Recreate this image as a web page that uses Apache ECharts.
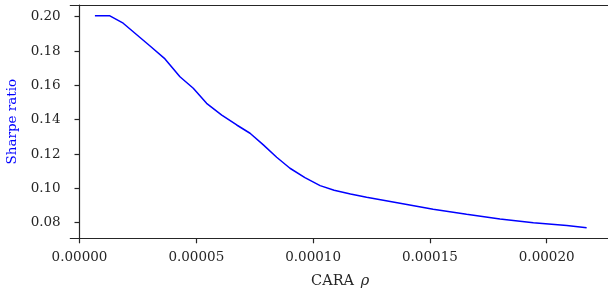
<!DOCTYPE html>
<html>
<head>
<meta charset="utf-8">
<script src="https://cdn.jsdelivr.net/npm/echarts@6/dist/echarts.min.js"></script>
<style>
  html, body { margin: 0; padding: 0; background: #fff; }
  #chart { width: 608px; height: 291px; }
</style>
</head>
<body>
<div id="chart"></div>
<script>
var rhoValues = [6.6e-6, 1.28e-5, 1.87e-5, 3.02e-5, 3.66e-5, 4.30e-5, 4.87e-5, 5.44e-5, 6.09e-5, 6.73e-5,
  7.30e-5, 7.87e-5, 8.44e-5, 9.01e-5, 9.65e-5, 1.03e-4, 1.09e-4, 1.16e-4, 1.229e-4, 1.372e-4,
  1.514e-4, 1.657e-4, 1.800e-4, 1.943e-4, 2.086e-4, 2.171e-4];
var sharpeValues = [0.2006, 0.2006, 0.1962, 0.1829, 0.1754, 0.1650, 0.1583, 0.1495, 0.1427, 0.1369,
  0.1321, 0.1253, 0.1181, 0.1117, 0.1062, 0.1016, 0.0989, 0.0967, 0.0948, 0.0913,
  0.0878, 0.0849, 0.0822, 0.0800, 0.0783, 0.0771];
var xTicks = [0, 0.00005, 0.0001, 0.00015, 0.0002];
var yTicks = [0.08, 0.10, 0.12, 0.14, 0.16, 0.18, 0.20];

var font = "DejaVu Serif";
var ink = "#262626";
var chart = echarts.init(document.getElementById("chart"));
var option = {
  animation: false,
  grid: { left: 70.3, top: 5, right: -2, bottom: 52.7, containLabel: false, outerBoundsMode: "none" },
  xAxis: [
    {
      type: "value",
      min: -3.94e-6,
      max: 2.271e-4,
      name: "{a|CARA}  {b|ρ}",
      nameLocation: "middle",
      nameGap: 35,
      nameTextStyle: {
        rich: {
          a: { fontFamily: font, fontSize: 14.5, color: ink },
          b: { fontFamily: font, fontSize: 14.5, fontStyle: "italic", color: ink }
        }
      },
      splitLine: { show: false },
      axisLine: { lineStyle: { color: ink, width: 1.2 } },
      axisTick: { show: true, length: 5, customValues: xTicks, lineStyle: { color: ink, width: 1.2 } },
      axisLabel: {
        customValues: xTicks,
        margin: 12,
        fontFamily: font,
        fontSize: 13.5,
        color: ink,
        formatter: function (v) { return v.toFixed(5); }
      }
    },
    {
      type: "value",
      position: "top",
      min: -3.94e-6,
      max: 2.271e-4,
      splitLine: { show: false },
      axisLine: { lineStyle: { color: ink, width: 1.2 } },
      axisTick: { show: false },
      axisLabel: { show: false }
    }
  ],
  yAxis: {
    type: "value",
    min: 0.0709,
    max: 0.2068,
    name: "Sharpe ratio",
    nameLocation: "middle",
    nameGap: 50,
    nameTextStyle: { fontFamily: font, fontSize: 13.5, color: "#0000ff" },
    splitLine: { show: false },
    axisLine: { show: true, lineStyle: { color: ink, width: 1.2 } },
    axisTick: { show: true, length: 5, customValues: yTicks, lineStyle: { color: ink, width: 1.2 } },
    axisLabel: {
      customValues: yTicks,
      margin: 9.6,
      fontFamily: font,
      fontSize: 13.5,
      color: ink,
      formatter: function (v) { return v.toFixed(2); }
    }
  },
  series: [
    {
      type: "line",
      xAxisIndex: 0,
      data: rhoValues.map(function (r, i) { return [r, sharpeValues[i]]; }),
      showSymbol: false,
      lineStyle: { color: "#0000ff", width: 1.5 }
    }
  ]
};
chart.setOption(option);
</script>
</body>
</html>
